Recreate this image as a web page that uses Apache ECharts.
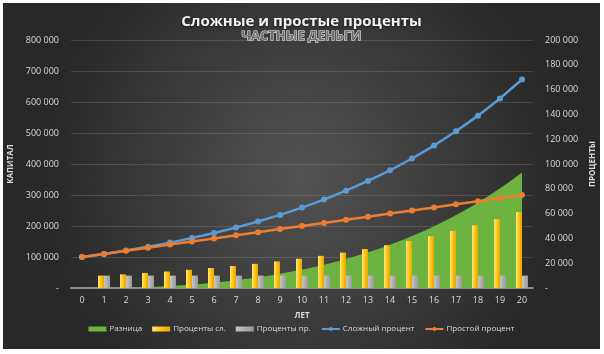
<!DOCTYPE html>
<html>
<head>
<meta charset="utf-8">
<script src="https://cdn.jsdelivr.net/npm/echarts@6/dist/echarts.min.js"></script>
<style>
  body { margin: 0; background: #fff; }
  #chart { position: absolute; left: 3px; top: 3px; width: 597px; height: 346px; }
</style>
</head>
<body>
<div id="chart"></div>
<script>
var years = ["0", "1", "2", "3", "4", "5", "6", "7", "8", "9", "10",
  "11", "12", "13", "14", "15", "16", "17", "18", "19", "20"];
// капитал (левая ось)
var compound = [100000, 110000, 121000, 133100, 146410, 161051, 177156, 194872, 214359, 235795,
  259374, 285312, 313843, 345227, 379750, 417725, 459497, 505447, 555992, 611591, 672750];
var simple = [100000, 110000, 120000, 130000, 140000, 150000, 160000, 170000, 180000, 190000,
  200000, 210000, 220000, 230000, 240000, 250000, 260000, 270000, 280000, 290000, 300000];
var diff = [0, 0, 1000, 3100, 6410, 11051, 17156, 24872, 34359, 45795,
  59374, 75312, 93843, 115227, 139750, 167725, 199497, 235447, 275992, 321591, 372750];
// проценты за год (правая ось)
var pctCompound = [null, 10000, 11000, 12100, 13310, 14641, 16105, 17716, 19487, 21436,
  23579, 25937, 28531, 31384, 34523, 37975, 41772, 45950, 50545, 55599, 61159];
var pctSimple = [null, 10000, 10000, 10000, 10000, 10000, 10000, 10000, 10000, 10000,
  10000, 10000, 10000, 10000, 10000, 10000, 10000, 10000, 10000, 10000, 10000];

function fmt(v) {
  if (v === 0) return "-";
  return String(v).replace(/\B(?=(\d{3})+(?!\d))/g, " ");
}

var labelColor = "#d9d9d9";
var font = "Open Sans";

var chart = echarts.init(document.getElementById("chart"));
chart.setOption({
  backgroundColor: {
    type: "radial", x: 0.5, y: 0.5, r: 0.75,
    colorStops: [
      { offset: 0, color: "#535353" },
      { offset: 1, color: "#282828" }
    ]
  },
  textStyle: { fontFamily: font },
  title: [
    {
      text: "Сложные и простые проценты",
      left: "center",
      top: 6,
      textStyle: {
        color: "#f2f2f2", fontSize: 15, fontWeight: "bold", fontFamily: font,
        textShadowColor: "rgba(0,0,0,0.6)", textShadowBlur: 3, textShadowOffsetY: 1
      }
    },
    {
      text: "ЧАСТНЫЕ ДЕНЬГИ",
      left: "center",
      top: 22,
      textStyle: {
        color: "#6f6f6f", fontSize: 13, fontWeight: "bold", fontFamily: font,
        textBorderColor: "#f2f2f2", textBorderWidth: 1
      }
    }
  ],
  legend: {
    bottom: 11,
    left: "center",
    itemWidth: 18,
    itemHeight: 5,
    itemGap: 10,
    textStyle: { color: labelColor, fontSize: 8, fontFamily: font, padding: [0, 0, 0, -2] },
    data: [
      { name: "Разница", icon: "rect" },
      { name: "Проценты сл.", icon: "rect" },
      { name: "Проценты пр.", icon: "rect" },
      "Сложный процент",
      "Простой процент"
    ]
  },
  grid: { left: 68, right: 67, top: 37, bottom: 61, outerBoundsMode: "none", containLabel: false },
  xAxis: {
    type: "category",
    data: years,
    name: "ЛЕТ",
    nameLocation: "middle",
    nameGap: 24,
    nameTextStyle: { color: labelColor, fontSize: 8, fontWeight: "bold" },
    axisLine: { lineStyle: { color: "#8c8c8c", width: 2 } },
    axisTick: { show: false },
    axisLabel: { color: labelColor, fontSize: 9, margin: 8 }
  },
  yAxis: [
    {
      type: "value",
      min: 0, max: 800000, interval: 100000,
      name: "КАПИТАЛ",
      nameLocation: "middle",
      nameGap: 48,
      nameTextStyle: { color: labelColor, fontSize: 8, fontWeight: "bold" },
      axisLabel: { color: labelColor, fontSize: 9, formatter: fmt, margin: 12 },
      splitLine: { lineStyle: { color: "rgba(255,255,255,0.13)" } }
    },
    {
      type: "value",
      min: 0, max: 200000, interval: 20000,
      name: "ПРОЦЕНТЫ",
      nameLocation: "middle",
      nameGap: 50,
      nameRotate: 90,
      nameTextStyle: { color: labelColor, fontSize: 8, fontWeight: "bold" },
      axisLabel: { color: labelColor, fontSize: 9, formatter: fmt, margin: 12 },
      splitLine: { show: false }
    }
  ],
  series: [
    {
      name: "Разница",
      type: "line",
      data: diff,
      smooth: true,
      symbol: "none",
      lineStyle: { width: 0 },
      itemStyle: { color: "#6cb33f" },
      areaStyle: { color: "#6cb33f", opacity: 1 },
      z: 1
    },
    {
      name: "Проценты сл.",
      type: "bar",
      yAxisIndex: 1,
      data: pctCompound,
      barWidth: 6,
      barGap: "0%",
      itemStyle: {
        color: {
          type: "linear", x: 0, y: 0, x2: 1, y2: 0,
          colorStops: [
            { offset: 0, color: "#ffe680" },
            { offset: 0.45, color: "#ffc819" },
            { offset: 1, color: "#e3a600" }
          ]
        }
      },
      z: 2
    },
    {
      name: "Проценты пр.",
      type: "bar",
      yAxisIndex: 1,
      data: pctSimple,
      barWidth: 6,
      barGap: "0%",
      itemStyle: {
        color: {
          type: "linear", x: 0, y: 0, x2: 1, y2: 0,
          colorStops: [
            { offset: 0, color: "#c4c4c4" },
            { offset: 1, color: "#9a9a9a" }
          ]
        }
      },
      z: 2
    },
    {
      name: "Сложный процент",
      type: "line",
      data: compound,
      symbol: "circle",
      symbolSize: 6,
      lineStyle: { color: "#5b9bd5", width: 2.5 },
      itemStyle: { color: "#5b9bd5" },
      z: 3
    },
    {
      name: "Простой процент",
      type: "line",
      data: simple,
      symbol: "circle",
      symbolSize: 6,
      lineStyle: { color: "#ed7d31", width: 2.5 },
      itemStyle: { color: "#ed7d31" },
      z: 4
    }
  ]
});
</script>
</body>
</html>
